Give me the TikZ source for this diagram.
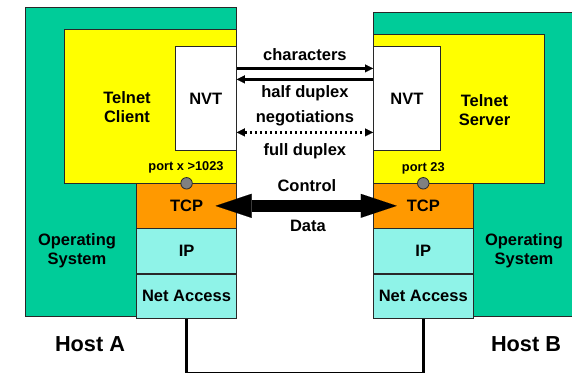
\documentclass[tikz,border=0pt]{standalone}
\usepackage{fontspec}
\setmainfont{Liberation Sans}
\usetikzlibrary{arrows.meta}
\definecolor{osgreen}{RGB}{0,204,153}
\definecolor{appyellow}{RGB}{255,255,0}
\definecolor{tcporange}{RGB}{255,153,0}
\definecolor{lowcyan}{RGB}{143,243,232}
\definecolor{edgegray}{RGB}{40,40,40}
\newcommand{\labelfont}{\bfseries\fontsize{16.5}{19}\selectfont}
\newcommand{\portfont}{\bfseries\fontsize{12.8}{15}\selectfont}
\newcommand{\hostfont}{\bfseries\fontsize{21.7}{25}\selectfont}
\newcommand{\widthstack}{99.7pt}
\newcommand{\heightstack}{44.3pt}
\newcommand{\heightnvt}{104.6pt}
\tikzset{
    common/.style={anchor=north west, draw=edgegray, line width=0.8pt, rectangle, inner sep=0pt},
    host/.style={common, fill=osgreen},
    app/.style={common, fill=appyellow, minimum height=150pt},
    nvt/.style={common, fill=white, minimum height=\heightnvt},
    stack/.style={common, minimum width=\widthstack, minimum height=\heightstack},
    tcp/.style={stack, fill=tcporange},
    lowstack/.style={stack, fill=lowcyan},
    port/.style={draw=edgegray, line width=0.8pt, circle, fill=gray, minimum size=11.5pt, inner sep=0pt},
    thinarrow/.style={line width=2.4pt, -{Triangle[length=8pt,width=8pt,line width=0.1pt]}},
    dotarrow/.style={thinarrow, {Triangle[length=8pt,width=8pt,line width=0.1pt]}-{Triangle[length=8pt,width=8pt,line width=0.1pt]}, dash pattern=on 2.4pt off 2.6pt},
    bigarrow/.style={line width=12pt, {Triangle[length=36pt,width=24pt,line width=0.1pt]}-{Triangle[length=36pt,width=24pt,line width=0.1pt]}},
    wire/.style={line width=3pt}
}

\begin{document}
\begin{tikzpicture}[x=1pt, y=-1pt, every node/.style={font=\labelfont, align=center}]
    \useasboundingbox (0,0) rectangle (572,372);
    % host A
    \node[host, minimum width=211pt, minimum height=309.3pt] (hostA) at (25,6.7) {};
    \node[app, minimum width=171.7pt, minimum height=154pt] (clientA) at (64.3,29.3) {};
    \node[nvt, minimum width=61.3pt] (nvtA) at (174.7,45.7) {NVT};
    \node[tcp] (tcpA) at (136.3,183.3) {TCP};
    \node[lowstack] (ipA) at (tcpA.south west) {IP};
    \node[lowstack] (netA) at (ipA.south west) {Net Access};
    \node[port] (portA) at (tcpA.north) {};
    \node (clientlabel) at (127,107.5) {Telnet\\Client};
    \node (osA) at (77,251) {Operating\\System};
    \node[font=\portfont] (portlabelA) at (186,167.5) {port x >1023};
    \node[font=\hostfont] (hostlabelA) at (90,344.5) {Host A};
    % host B
    \node[host, minimum width=210pt, minimum height=303.7pt] (hostB) at (373,12.3) {};
    \node[app, minimum width=171.3pt, minimum height=148.7pt] (serverB) at (373,34.3) {};
    \node[nvt, minimum width=67pt] (nvtB) at (373,45.7) {NVT};
    \node[tcp] (tcpB) at (373,183.3) {TCP};
    \node[lowstack] (ipB) at (tcpB.south west) {IP};
    \node[lowstack] (netB) at (ipB.south west) {Net Access};
    \node[port] (portB) at (tcpB.north) {};
    \node (serverlabel) at (484.5,110) {Telnet\\Server};
    \node (osB) at (524,251) {Operating\\System};
    \node[font=\portfont] (portlabelB) at (423.3,168) {port 23};
    \node[font=\hostfont] (hostlabelB) at (526,344.5) {Host B};
    % NVT to NVT
    \draw[thinarrow] ([yshift=30pt]nvtA.east) -- node[yshift=14pt] (chars) {characters} ([yshift=30pt]nvtB.west);
    \draw[thinarrow] ([yshift=19pt]nvtB.west) -- node[yshift=-14pt] (halfdup) {half duplex} ([yshift=19pt]nvtA.east);
    \draw[dotarrow] ([yshift=-34pt]nvtA.east) -- node[yshift=14pt] (negot) {negotiations} node[yshift=-19pt] (fulldup) {full duplex} ([yshift=-34pt]nvtB.west);
    % TCP connection
    \draw[bigarrow, shorten <=29pt, shorten >=26.5pt] (tcpA.center) -- node[yshift=20pt, xshift=2pt] (ctrl) {Control} node[yshift=-20pt, xshift=3pt] (data) {Data} (tcpB.center);
    % physical link
    \draw[wire] (netA.south) -- ++(0,55) -| (netB.south);
\end{tikzpicture}
\end{document}
